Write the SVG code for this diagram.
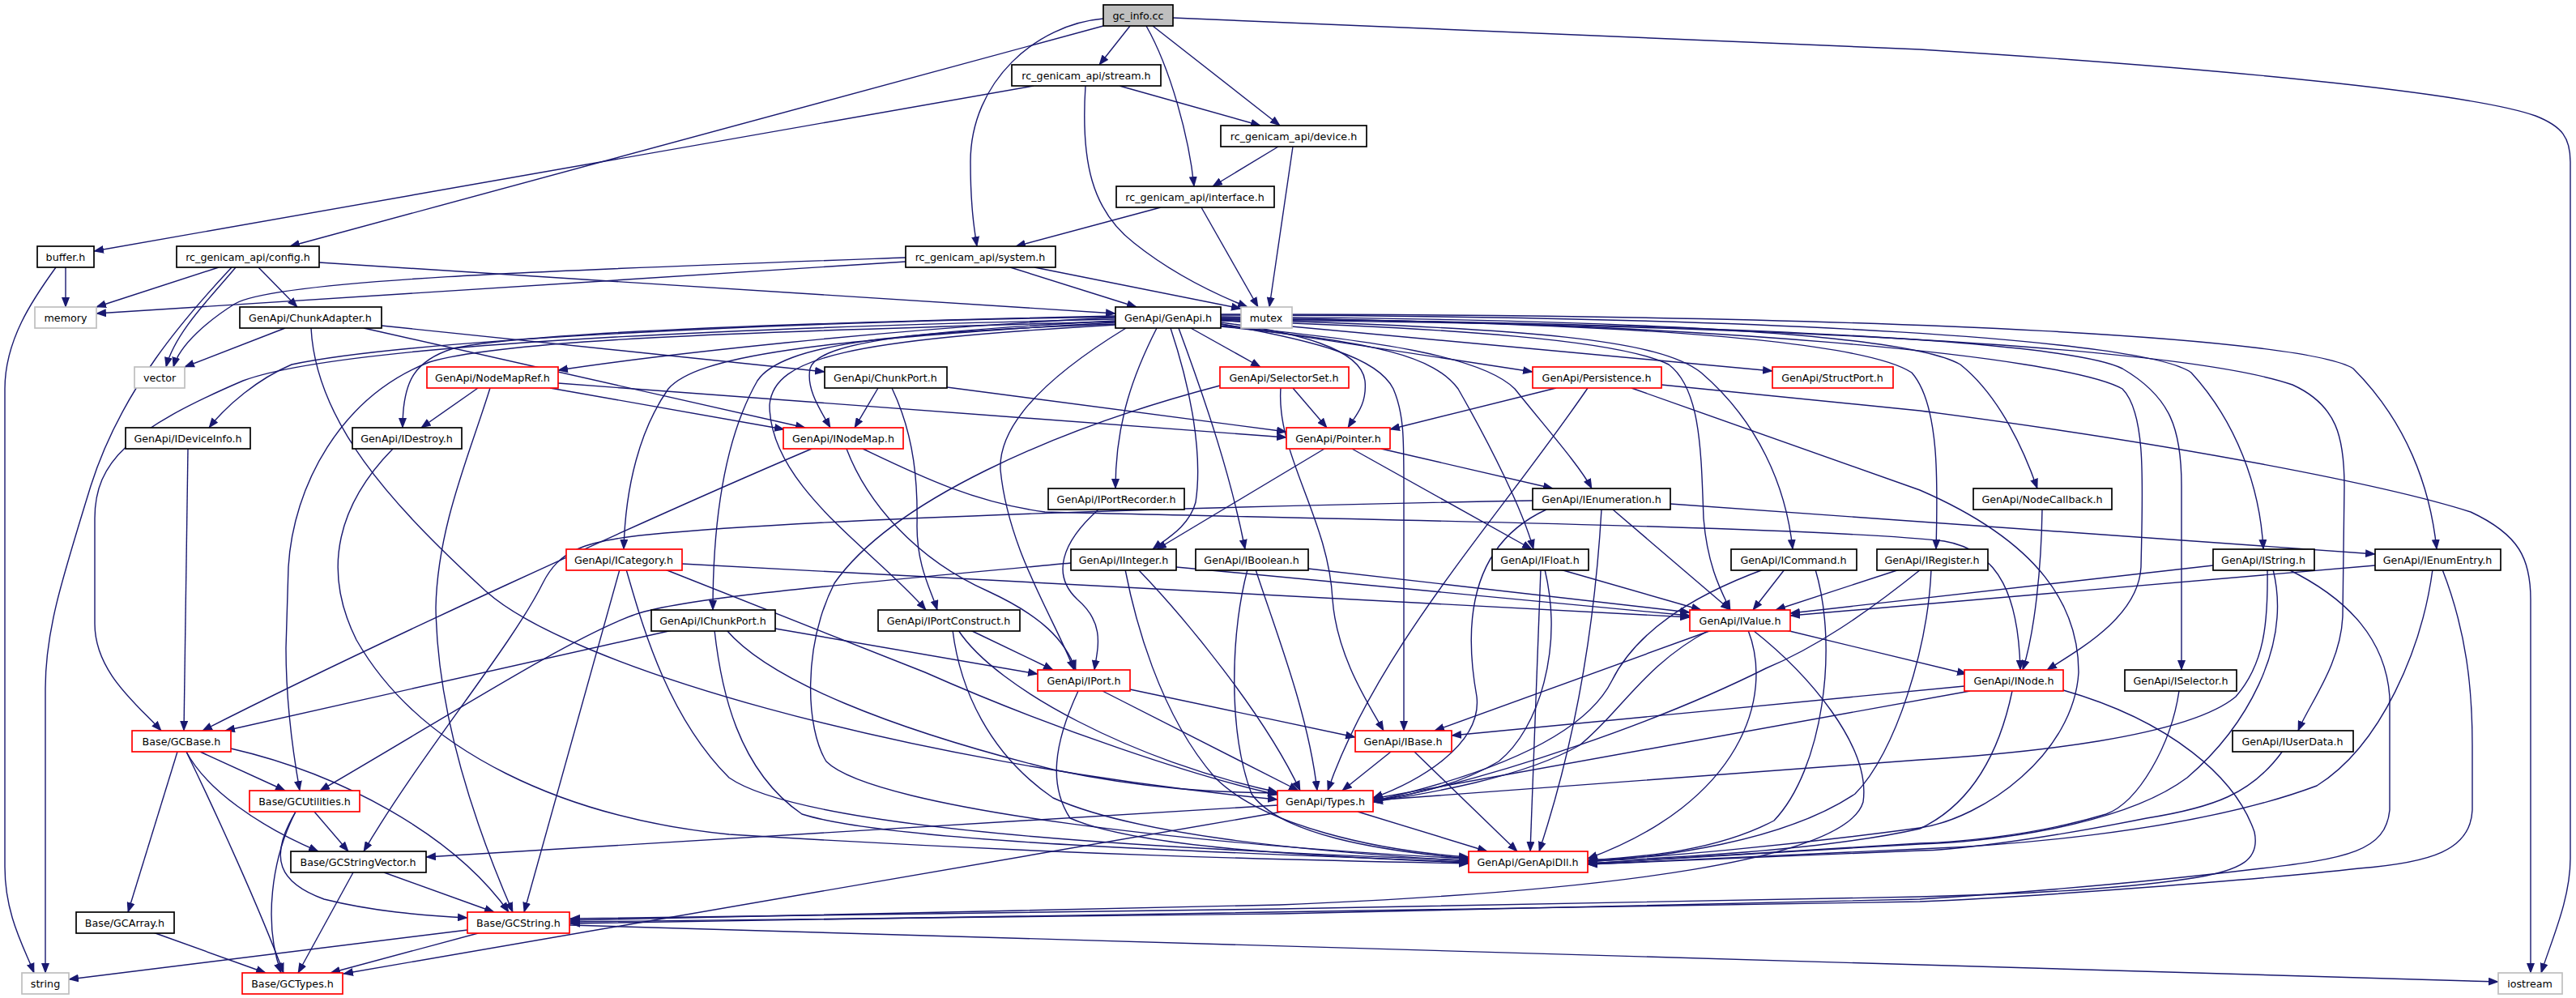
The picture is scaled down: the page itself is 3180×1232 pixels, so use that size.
<svg xmlns="http://www.w3.org/2000/svg" width="3180" height="1232" viewBox="0 0 3180 1232">
<style>
.nd rect{fill:#fff;stroke:#000;stroke-width:1.7}
.nd.r rect{stroke:#ff0000}
.nd.g rect{stroke:#bfbfbf}
.nd.m rect{fill:#bfbfbf}
.nd text{font-family:"DejaVu Sans","Liberation Sans",sans-serif;font-size:12.7px;text-anchor:middle;fill:#000}
#edges path{fill:none;stroke:#191970;stroke-width:1.4;marker-end:url(#a)}
</style>
<defs>
<marker id="a" markerWidth="14" markerHeight="10" refX="12" refY="5" orient="auto" markerUnits="userSpaceOnUse"><path d="M0,0 L13,5 L0,10 z" fill="#191970" stroke="none"/></marker>
</defs>
<rect width="3180" height="1232" fill="#fff"/>
<g id="edges">
<path d="M1395,32 L1357,80"/>
<path d="M1423,32 L1580,155"/>
<path d="M1415,32 C1445,85 1468,170 1474,230"/>
<path d="M1362,23 C1280,30 1198,100 1198,200 C1198,255 1203,285 1206,304"/>
<path d="M1362,32 L358,304"/>
<path d="M1448,22 L2370,61 C2800,88 3060,118 3130,143 C3163,156 3173,170 3173,200 L3173,1060 C3173,1110 3150,1160 3137,1201"/>
<path d="M1382,106 L1556,155"/>
<path d="M1340,106 C1334,200 1348,260 1400,300 C1450,340 1505,365 1540,379"/>
<path d="M1276,106 L116,310"/>
<path d="M1578,181 L1497,230"/>
<path d="M1596,181 L1567,379"/>
<path d="M1433,256 L1254,304"/>
<path d="M1483,256 L1553,379"/>
<path d="M1247,330 L1403,379"/>
<path d="M1277,330 L1532,381"/>
<path d="M1118,323 L119,387"/>
<path d="M1118,318 C700,333 340,345 290,375 C258,395 222,425 214,453"/>
<path d="M394,324 L1377,387"/>
<path d="M270,330 L119,379"/>
<path d="M291,330 C262,365 216,410 205,453"/>
<path d="M286,330 C230,390 150,480 112,600 C75,720 56,780 56,850 L56,1201"/>
<path d="M319,330 L367,379"/>
<path d="M81,330 L81,379"/>
<path d="M69,330 C40,370 6,420 6,480 L6,1070 C6,1130 30,1170 42,1201"/>
<path d="M352,405 L228,453"/>
<path d="M384,405 C390,520 480,620 600,730 C700,820 1100,940 1577,987"/>
<path d="M471,402 L1018,459"/>
<path d="M449,405 L994,528"/>
<path d="M1377,392 C1100,405 800,440 689,457"/>
<path d="M1377,391 C950,398 500,420 360,450 C318,468 280,500 258,528"/>
<path d="M1377,390 C1000,398 650,410 560,430 C512,445 497,470 497,528"/>
<path d="M1377,396 C1150,408 1010,420 1000,455 C995,480 1012,505 1025,528"/>
<path d="M1377,398 C1000,420 860,440 825,480 C790,530 772,600 770,678"/>
<path d="M1377,400 C1100,410 965,425 935,470 C895,540 880,640 880,753"/>
<path d="M1377,401 C1050,420 955,440 950,500 C950,600 1080,680 1143,753"/>
<path d="M1377,394 C900,405 420,425 300,470 C160,530 117,570 117,640 L117,770 C117,830 170,870 199,902"/>
<path d="M1377,397 C900,410 620,420 530,447 C420,490 362,600 356,700 L353,800 C353,860 360,920 370,976"/>
<path d="M1390,405 C1300,460 1232,520 1235,580 C1245,680 1300,760 1326,827"/>
<path d="M1470,405 L1556,453"/>
<path d="M1428,405 C1400,460 1377,520 1377,603"/>
<path d="M1445,405 C1470,480 1485,560 1476,620 C1468,650 1440,665 1423,678"/>
<path d="M1455,405 C1490,500 1520,590 1537,678"/>
<path d="M1507,398 C1600,410 1680,430 1685,470 C1688,500 1672,515 1664,528"/>
<path d="M1507,400 L1892,459"/>
<path d="M1507,395 L2188,458"/>
<path d="M1507,402 C1700,420 1830,440 1870,480 C1910,530 1950,575 1965,603"/>
<path d="M1507,403 C1700,422 1770,440 1800,480 C1840,550 1880,630 1893,678"/>
<path d="M1507,394 C1900,405 2050,420 2100,460 C2170,520 2205,600 2213,678"/>
<path d="M1507,396 C1800,405 2000,420 2060,450 C2100,480 2100,560 2103,640 C2108,700 2125,730 2136,753"/>
<path d="M1507,392 C2000,398 2300,420 2360,460 C2395,500 2392,600 2390,678"/>
<path d="M1507,391 C2000,394 2350,410 2420,450 C2470,490 2500,560 2515,603"/>
<path d="M1507,389 C2200,390 2650,420 2705,460 C2760,520 2790,600 2794,678"/>
<path d="M1507,388 C2400,388 2850,420 2905,455 C2970,520 3000,600 3008,678"/>
<path d="M1507,393 C2100,396 2550,440 2620,480 C2650,510 2645,600 2643,700 C2640,760 2570,800 2527,827"/>
<path d="M1507,394 C2100,398 2550,420 2620,455 C2680,490 2693,530 2693,600 L2693,827"/>
<path d="M1507,395 C2200,400 2700,430 2830,475 C2885,500 2894,540 2894,600 L2892,760 C2890,820 2850,870 2837,902"/>
<path d="M1507,400 C1620,420 1700,440 1720,480 C1733,510 1733,540 1733,600 L1733,902"/>
<path d="M590,479 L520,528"/>
<path d="M679,479 L968,530"/>
<path d="M689,473 L1588,540"/>
<path d="M605,479 C580,560 540,650 538,750 C540,900 600,1050 633,1126"/>
<path d="M1084,479 L1055,528"/>
<path d="M1101,479 C1130,540 1133,600 1132,650 C1132,700 1150,730 1157,753"/>
<path d="M1169,478 L1588,533"/>
<path d="M1596,479 L1638,528"/>
<path d="M1581,479 C1575,560 1640,640 1645,740 C1650,810 1690,870 1708,902"/>
<path d="M1506,476 C1300,530 1100,620 1030,720 C990,800 995,900 1020,940 C1080,1000 1500,1045 1813,1060"/>
<path d="M1921,479 L1716,530"/>
<path d="M1960,479 C1850,640 1700,800 1639,976"/>
<path d="M2014,479 L2370,605 C2520,670 2566,750 2566,830 C2560,930 2450,1010 2370,1022 C2200,1045 2050,1058 1960,1062"/>
<path d="M2051,475 L2370,507 C2700,550 2950,600 3050,632 C3110,660 3124,690 3124,740 L3124,1201"/>
<path d="M1045,554 C1070,620 1130,690 1220,730 C1285,760 1315,790 1328,827"/>
<path d="M1002,554 C800,640 450,800 250,902"/>
<path d="M1065,554 C1130,585 1200,620 1290,632 C1600,640 2250,650 2400,668 C2470,680 2492,740 2494,827"/>
<path d="M1635,554 L1428,678"/>
<path d="M1669,554 L1891,678"/>
<path d="M1705,554 L1917,603"/>
<path d="M1356,629 C1310,670 1298,710 1330,740 C1365,770 1355,800 1351,827"/>
<path d="M1991,629 L2136,753"/>
<path d="M2062,622 L2932,684"/>
<path d="M1909,629 C1820,670 1805,760 1823,860 C1830,920 1750,965 1695,985"/>
<path d="M1977,629 C1970,750 1950,900 1900,1051"/>
<path d="M1892,618 C1500,625 1000,640 800,660 C720,668 690,680 670,720 C630,800 520,930 449,1051"/>
<path d="M1926,703 L2100,753"/>
<path d="M1907,703 C1930,800 1900,900 1850,940 C1800,970 1740,982 1695,988"/>
<path d="M1902,703 L1889,1051"/>
<path d="M2203,703 L2164,753"/>
<path d="M2177,703 C2090,735 2020,780 1990,840 C1950,920 1800,965 1695,989"/>
<path d="M2241,703 C2270,800 2250,950 2190,1013 C2120,1050 2030,1058 1960,1062"/>
<path d="M2345,703 L2192,753"/>
<path d="M2371,703 C2300,760 2240,800 2180,825 C2050,890 1850,960 1695,990"/>
<path d="M2384,703 C2380,800 2340,930 2290,980 C2200,1040 2050,1058 1960,1064"/>
<path d="M1452,700 L2086,760"/>
<path d="M1405,703 C1460,760 1560,880 1605,976"/>
<path d="M1389,703 C1400,760 1430,880 1500,960 C1560,1020 1700,1050 1813,1058"/>
<path d="M1322,695 C1000,725 830,740 780,760 C700,790 560,880 395,976"/>
<path d="M1615,702 L2086,756"/>
<path d="M1550,703 C1575,780 1615,880 1626,976"/>
<path d="M1540,703 C1520,780 1515,900 1545,980 C1580,1030 1700,1050 1813,1060"/>
<path d="M842,696 L2086,762"/>
<path d="M821,703 L1142,830 C1300,900 1480,960 1577,981"/>
<path d="M773,703 C790,760 820,880 900,960 C1000,1030 1500,1050 1813,1062"/>
<path d="M765,703 L647,1126"/>
<path d="M957,776 L1281,832"/>
<path d="M830,778 L278,902"/>
<path d="M897,778 C950,840 1100,900 1300,950 C1420,975 1500,978 1577,979"/>
<path d="M882,778 C890,850 910,950 990,1005 C1100,1040 1500,1052 1813,1064"/>
<path d="M1198,778 L1300,827"/>
<path d="M1183,778 C1230,850 1400,940 1577,978"/>
<path d="M1176,778 C1185,850 1220,930 1300,985 C1400,1030 1600,1050 1813,1063"/>
<path d="M2113,778 L1771,902"/>
<path d="M2205,778 L2428,832"/>
<path d="M2110,778 C2030,820 2000,880 1950,920 C1880,960 1760,980 1695,990"/>
<path d="M2158,778 C2190,860 2150,990 1960,1060"/>
<path d="M2164,778 C2230,830 2310,920 2300,990 C2280,1060 2000,1100 1580,1117 C1200,1128 900,1133 704,1136"/>
<path d="M2732,698 L2210,757"/>
<path d="M2932,698 L2210,760"/>
<path d="M2799,703 C2800,770 2795,820 2760,860 C2700,910 2500,930 2370,938 L1695,988"/>
<path d="M2806,703 C2830,800 2770,900 2700,960 C2620,1020 2450,1040 2370,1042 L1960,1066"/>
<path d="M2825,703 C2900,740 2945,790 2950,860 L2950,1000 C2945,1050 2900,1060 2783,1073 C2600,1095 2400,1108 2370,1110 L1580,1128 L704,1138"/>
<path d="M3003,703 C2990,800 2940,920 2860,970 C2700,1030 2450,1045 2370,1048 L1960,1067"/>
<path d="M3015,703 C3045,780 3052,850 3052,920 L3052,1000 C3050,1050 3000,1065 2912,1072 C2800,1085 2500,1108 2370,1113 L704,1140"/>
<path d="M2425,847 L1792,908"/>
<path d="M2432,853 L1695,986"/>
<path d="M2484,853 C2470,920 2440,990 2370,1023 C2250,1050 2050,1060 1960,1063"/>
<path d="M2547,852 C2680,890 2760,960 2783,1027 C2790,1060 2770,1075 2700,1085 C2600,1100 2450,1105 2370,1107 L1580,1122 L704,1134"/>
<path d="M2521,629 C2520,700 2512,780 2497,827"/>
<path d="M2690,853 C2680,920 2640,990 2600,1005 C2500,1035 2400,1040 2370,1041 L1960,1066"/>
<path d="M2818,927 C2780,980 2732,997 2650,1010 C2500,1040 2400,1050 2370,1050 L1960,1067"/>
<path d="M1395,851 L1673,910"/>
<path d="M1361,853 L1603,976"/>
<path d="M1331,853 C1300,920 1295,970 1321,1010 C1400,1045 1600,1056 1813,1065"/>
<path d="M1717,928 L1657,976"/>
<path d="M1746,928 L1873,1051"/>
<path d="M1676,1002 L1836,1051"/>
<path d="M1577,994 L526,1058"/>
<path d="M1583,1002 L424,1202"/>
<path d="M485,554 C420,620 395,700 440,790 C520,930 700,1010 900,1030 C1300,1055 1600,1062 1813,1066"/>
<path d="M232,554 L227,902"/>
<path d="M247,928 L352,976"/>
<path d="M230,928 C255,975 320,1020 393,1051"/>
<path d="M285,924 C420,955 560,1030 628,1126"/>
<path d="M230,928 C265,1000 320,1120 350,1201"/>
<path d="M219,928 L158,1126"/>
<path d="M388,1002 L430,1051"/>
<path d="M365,1002 C335,1060 325,1140 347,1201"/>
<path d="M365,1002 C330,1060 345,1090 400,1110 C460,1125 520,1130 577,1133"/>
<path d="M474,1077 L610,1126"/>
<path d="M436,1077 L368,1201"/>
<path d="M189,1151 L328,1201"/>
<path d="M577,1148 L85,1209"/>
<path d="M594,1151 L408,1201"/>
<path d="M703,1142 L3084,1212"/>
</g>
<g id="n_gc" class="nd m"><rect x="1362" y="6" width="86" height="26"/><text x="1405" y="24">gc_info.cc</text></g>
<g id="n_stream" class="nd"><rect x="1249" y="80" width="184" height="26"/><text x="1341" y="98">rc_genicam_api/stream.h</text></g>
<g id="n_device" class="nd"><rect x="1507" y="155" width="180" height="26"/><text x="1597" y="173">rc_genicam_api/device.h</text></g>
<g id="n_interface" class="nd"><rect x="1378" y="230" width="195" height="26"/><text x="1475" y="248">rc_genicam_api/interface.h</text></g>
<g id="n_system" class="nd"><rect x="1118" y="304" width="185" height="26"/><text x="1210" y="322">rc_genicam_api/system.h</text></g>
<g id="n_buffer" class="nd"><rect x="46" y="304" width="70" height="26"/><text x="81" y="322">buffer.h</text></g>
<g id="n_config" class="nd"><rect x="218" y="304" width="176" height="26"/><text x="306" y="322">rc_genicam_api/config.h</text></g>
<g id="n_memory" class="nd g"><rect x="43" y="379" width="76" height="26"/><text x="81" y="397">memory</text></g>
<g id="n_chunkadapter" class="nd"><rect x="296" y="379" width="175" height="26"/><text x="383" y="397">GenApi/ChunkAdapter.h</text></g>
<g id="n_genapi" class="nd"><rect x="1377" y="379" width="130" height="26"/><text x="1442" y="397">GenApi/GenApi.h</text></g>
<g id="n_mutex" class="nd g"><rect x="1532" y="379" width="63" height="26"/><text x="1563" y="397">mutex</text></g>
<g id="n_vector" class="nd g"><rect x="166" y="453" width="62" height="26"/><text x="197" y="471">vector</text></g>
<g id="n_nodemapref" class="nd r"><rect x="527" y="453" width="162" height="26"/><text x="608" y="471">GenApi/NodeMapRef.h</text></g>
<g id="n_chunkport" class="nd"><rect x="1018" y="453" width="151" height="26"/><text x="1093" y="471">GenApi/ChunkPort.h</text></g>
<g id="n_selectorset" class="nd r"><rect x="1506" y="453" width="159" height="26"/><text x="1585" y="471">GenApi/SelectorSet.h</text></g>
<g id="n_persistence" class="nd r"><rect x="1892" y="453" width="159" height="26"/><text x="1971" y="471">GenApi/Persistence.h</text></g>
<g id="n_structport" class="nd r"><rect x="2188" y="453" width="149" height="26"/><text x="2262" y="471">GenApi/StructPort.h</text></g>
<g id="n_ideviceinfo" class="nd"><rect x="155" y="528" width="154" height="26"/><text x="232" y="546">GenApi/IDeviceInfo.h</text></g>
<g id="n_idestroy" class="nd"><rect x="435" y="528" width="135" height="26"/><text x="502" y="546">GenApi/IDestroy.h</text></g>
<g id="n_inodemap" class="nd r"><rect x="967" y="528" width="148" height="26"/><text x="1041" y="546">GenApi/INodeMap.h</text></g>
<g id="n_pointer" class="nd r"><rect x="1588" y="528" width="128" height="26"/><text x="1652" y="546">GenApi/Pointer.h</text></g>
<g id="n_iportrecorder" class="nd"><rect x="1294" y="603" width="168" height="26"/><text x="1378" y="621">GenApi/IPortRecorder.h</text></g>
<g id="n_ienumeration" class="nd"><rect x="1892" y="603" width="170" height="26"/><text x="1977" y="621">GenApi/IEnumeration.h</text></g>
<g id="n_nodecallback" class="nd"><rect x="2436" y="603" width="171" height="26"/><text x="2521" y="621">GenApi/NodeCallback.h</text></g>
<g id="n_icategory" class="nd r"><rect x="699" y="678" width="143" height="26"/><text x="770" y="696">GenApi/ICategory.h</text></g>
<g id="n_iinteger" class="nd"><rect x="1322" y="678" width="130" height="26"/><text x="1387" y="696">GenApi/IInteger.h</text></g>
<g id="n_iboolean" class="nd"><rect x="1476" y="678" width="139" height="26"/><text x="1545" y="696">GenApi/IBoolean.h</text></g>
<g id="n_ifloat" class="nd"><rect x="1842" y="678" width="119" height="26"/><text x="1901" y="696">GenApi/IFloat.h</text></g>
<g id="n_icommand" class="nd"><rect x="2137" y="678" width="155" height="26"/><text x="2214" y="696">GenApi/ICommand.h</text></g>
<g id="n_iregister" class="nd"><rect x="2317" y="678" width="137" height="26"/><text x="2385" y="696">GenApi/IRegister.h</text></g>
<g id="n_istring" class="nd"><rect x="2732" y="678" width="125" height="26"/><text x="2794" y="696">GenApi/IString.h</text></g>
<g id="n_ienumentry" class="nd"><rect x="2932" y="678" width="155" height="26"/><text x="3009" y="696">GenApi/IEnumEntry.h</text></g>
<g id="n_ichunkport" class="nd"><rect x="804" y="753" width="153" height="26"/><text x="880" y="771">GenApi/IChunkPort.h</text></g>
<g id="n_iportconstruct" class="nd"><rect x="1084" y="753" width="175" height="26"/><text x="1171" y="771">GenApi/IPortConstruct.h</text></g>
<g id="n_ivalue" class="nd r"><rect x="2086" y="753" width="124" height="26"/><text x="2148" y="771">GenApi/IValue.h</text></g>
<g id="n_iport" class="nd r"><rect x="1281" y="827" width="114" height="26"/><text x="1338" y="845">GenApi/IPort.h</text></g>
<g id="n_inode" class="nd r"><rect x="2425" y="827" width="122" height="26"/><text x="2486" y="845">GenApi/INode.h</text></g>
<g id="n_iselector" class="nd"><rect x="2623" y="827" width="138" height="26"/><text x="2692" y="845">GenApi/ISelector.h</text></g>
<g id="n_gcbase" class="nd r"><rect x="163" y="902" width="122" height="26"/><text x="224" y="920">Base/GCBase.h</text></g>
<g id="n_ibase" class="nd r"><rect x="1673" y="902" width="119" height="26"/><text x="1732" y="920">GenApi/IBase.h</text></g>
<g id="n_iuserdata" class="nd"><rect x="2756" y="902" width="149" height="26"/><text x="2830" y="920">GenApi/IUserData.h</text></g>
<g id="n_gcutilities" class="nd r"><rect x="308" y="976" width="136" height="26"/><text x="376" y="994">Base/GCUtilities.h</text></g>
<g id="n_types" class="nd r"><rect x="1577" y="976" width="118" height="26"/><text x="1636" y="994">GenApi/Types.h</text></g>
<g id="n_gcstringvector" class="nd"><rect x="359" y="1051" width="167" height="26"/><text x="442" y="1069">Base/GCStringVector.h</text></g>
<g id="n_genapidll" class="nd r"><rect x="1813" y="1051" width="147" height="26"/><text x="1886" y="1069">GenApi/GenApiDll.h</text></g>
<g id="n_gcarray" class="nd"><rect x="94" y="1126" width="121" height="26"/><text x="154" y="1144">Base/GCArray.h</text></g>
<g id="n_gcstring" class="nd r"><rect x="577" y="1126" width="126" height="26"/><text x="640" y="1144">Base/GCString.h</text></g>
<g id="n_string" class="nd g"><rect x="27" y="1201" width="58" height="26"/><text x="56" y="1219">string</text></g>
<g id="n_gctypes" class="nd r"><rect x="299" y="1201" width="124" height="26"/><text x="361" y="1219">Base/GCTypes.h</text></g>
<g id="n_iostream" class="nd g"><rect x="3084" y="1201" width="79" height="26"/><text x="3123" y="1219">iostream</text></g>
</svg>
